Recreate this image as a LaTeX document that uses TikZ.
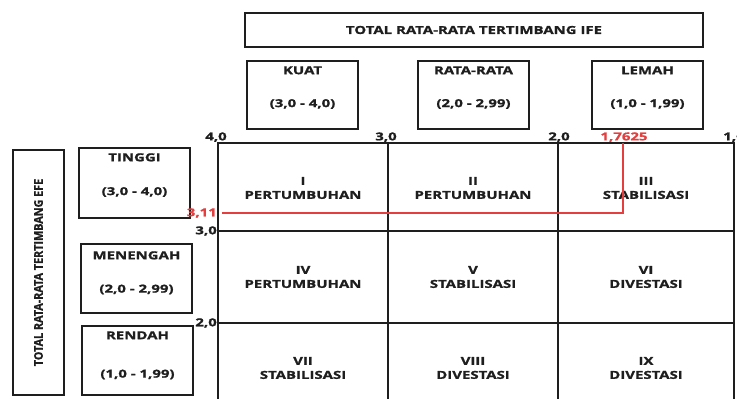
\documentclass[tikz,border=0pt]{standalone}
\usepackage{fontspec}
\setmainfont{Open Sans}[FakeStretch=1.36, FakeBold=1.2]
\newfontfamily\narrowfont{Open Sans}[FakeStretch=0.9, FakeBold=1.2]
\usetikzlibrary{positioning}

\definecolor{ink}{RGB}{30,30,30}
\definecolor{markred}{RGB}{228,62,62}
\tikzset{
	box/.style={draw=ink, line width=1.4pt, minimum width=111pt, minimum height=68pt, inner sep=0pt},
	lbl/.style={font=\fontsize{11}{14}\selectfont\bfseries, text=ink, inner sep=1pt},
	redlbl/.style={lbl, text=markred},
	grid/.style={draw=ink, line width=1.4pt},
	redline/.style={draw=markred, line width=1.2pt}
}

\begin{document}
\begin{tikzpicture}[x=1pt, y=-1pt]
	\useasboundingbox (0,0) rectangle (737,399);
	\pgfmathsetmacro{\gl}{218}
	\pgfmathsetmacro{\gt}{143}

	\node[box, minimum width=458pt, minimum height=34pt] (ife) at (474,30) {};
	\node[lbl] at (ife.center) {TOTAL RATA-RATA TERTIMBANG IFE};

	\node[box] (kuat) at (302.5,95) {};
	\node[box] (ratarata) at (473.5,95) {};
	\node[box] (lemah) at (647.5,95) {};
	\node[lbl] at ([yshift=-10pt]kuat.north) {KUAT};
	\node[lbl] at ([yshift=-9pt]kuat.center) {(3,0 - 4,0)};
	\node[lbl] at ([yshift=-10pt]ratarata.north) {RATA-RATA};
	\node[lbl] at ([yshift=-9pt]ratarata.center) {(2,0 - 2,99)};
	\node[lbl] at ([yshift=-10pt]lemah.north) {LEMAH};
	\node[lbl] at ([yshift=-9pt]lemah.center) {(1,0 - 1,99)};

	\node[box, minimum width=51pt, minimum height=245pt] (efe) at (38.5,272.5) {};
	\node[lbl, font=\narrowfont\fontsize{12}{14}\selectfont\bfseries, rotate=90] at (efe.center) {TOTAL RATA-RATA TERTIMBANG EFE};

	\node[box, minimum height=70pt] (tinggi) at (134.5,183) {};
	\node[box, minimum height=69pt] (menengah) at (136.5,278.5) {};
	\node[box, minimum height=69pt] (rendah) at (137.5,360.5) {};
	\node[lbl] at ([yshift=-10pt]tinggi.north) {TINGGI};
	\node[lbl] at ([yshift=-9pt]tinggi.center) {(3,0 - 4,0)};
	\node[lbl] at ([yshift=-12pt]menengah.north) {MENENGAH};
	\node[lbl] at ([yshift=-11pt]menengah.center) {(2,0 - 2,99)};
	\node[lbl] at ([yshift=-10pt]rendah.north) {RENDAH};
	\node[lbl] at ([yshift=-14pt]rendah.center) {(1,0 - 1,99)};

	\draw[grid] (\gl,\gt) rectangle (734,411);
	\foreach \x in {388,558}
		\draw[grid] (\x,\gt) -- (\x,411);
	\foreach \y in {231,323}
		\draw[grid] (\gl,\y) -- (734,\y);

	\node[lbl, anchor=south] at (216,\gt) {4,0};
	\node[lbl, anchor=south] at (386,\gt) {3,0};
	\node[lbl, anchor=south] at (559,\gt) {2,0};
	\node[lbl, anchor=south] at (734,\gt) {1,0};
	\node[lbl, anchor=east] at (\gl,231) {3,0};
	\node[lbl, anchor=east] at (\gl,323) {2,0};
	\node[lbl, anchor=east] at (\gl,411) {1,0};

	\node[lbl, align=center] at (303,188) {I\\PERTUMBUHAN};
	\node[lbl, align=center] at (473,188) {II\\PERTUMBUHAN};
	\node[lbl, align=center] at (646,188) {III\\STABILISASI};
	\node[lbl, align=center] at (303,277) {IV\\PERTUMBUHAN};
	\node[lbl, align=center] at (473,277) {V\\STABILISASI};
	\node[lbl, align=center] at (646,277) {VI\\DIVESTASI};
	\node[lbl, align=center] at (303,368) {VII\\STABILISASI};
	\node[lbl, align=center] at (473,368) {VIII\\DIVESTASI};
	\node[lbl, align=center] at (646,368) {IX\\DIVESTASI};

	\node[redlbl, anchor=east] (efeval) at (218,213) {3,11};
	\node[redlbl, anchor=south] (ifeval) at (624,\gt) {1,7625};
	\coordinate (cross) at (623,213);
	\draw[redline] ([xshift=4pt]efeval.east) -- (cross) -- (623,\gt);
\end{tikzpicture}
\end{document}
